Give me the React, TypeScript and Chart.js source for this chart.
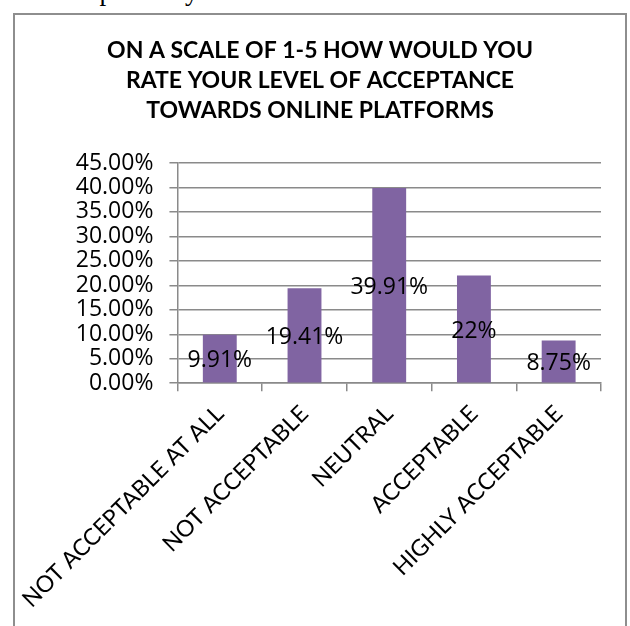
import React, { useEffect, useRef } from "react";
import { Chart, registerables } from "chart.js";

Chart.register(...registerables);

const categories = [
  "NOT ACCEPTABLE AT ALL",
  "NOT ACCEPTABLE",
  "NEUTRAL",
  "ACCEPTABLE",
  "HIGHLY ACCEPTABLE",
];
const values = [9.91, 19.41, 39.91, 22, 8.75];
const valueLabels = ["9.91%", "19.41%", "39.91%", "22%", "8.75%"];
const titleLines = [
  "ON A SCALE OF 1-5 HOW WOULD YOU",
  "RATE YOUR LEVEL OF ACCEPTANCE",
  "TOWARDS ONLINE PLATFORMS",
];
const yMin = 0;
const yMax = 45;
const yStep = 5;

const NUM_FONT = "'Open Sans', sans-serif";
const TEXT_FONT = "Lato, sans-serif";

const dataLabelPlugin = {
  id: "centerLabels",
  afterDatasetsDraw(chart: any) {
    const ctx = chart.ctx;
    const meta = chart.getDatasetMeta(0);
    ctx.save();
    ctx.font = `23px ${NUM_FONT}`;
    ctx.fillStyle = "#000";
    ctx.textAlign = "center";
    ctx.textBaseline = "middle";
    meta.data.forEach((bar: any, i: number) => {
      const p = bar.getProps(["x", "y", "base"], true);
      ctx.fillText(valueLabels[i], p.x, (p.y + p.base) / 2 + 2);
    });
    ctx.restore();
  },
};

export default function App() {
  const ref = useRef<HTMLCanvasElement | null>(null);

  useEffect(() => {
    if (!ref.current) return;
    const chart = new Chart(ref.current, {
      type: "bar",
      data: {
        labels: categories,
        datasets: [
          {
            data: values,
            backgroundColor: "#8064A2",
            barPercentage: 0.4,
            categoryPercentage: 1,
          },
        ],
      },
      options: {
        responsive: false,
        animation: false,
        layout: { padding: { left: 39, right: 29, top: 0, bottom: 4 } },
        plugins: {
          legend: { display: false },
          tooltip: { enabled: false },
          title: {
            display: true,
            text: titleLines,
            color: "#000",
            font: { family: TEXT_FONT, size: 23, weight: "bold", lineHeight: 30 / 23 },
            padding: { top: 36, bottom: 37 },
          },
        },
        scales: {
          x: {
            grid: {
              offset: true,
              drawOnChartArea: false,
              drawTicks: true,
              tickLength: 8,
              color: "#8a8a8a",
              lineWidth: 1.5,
            },
            border: { display: true, color: "#8a8a8a", width: 1.5 },
            ticks: {
              color: "#000",
              font: { family: TEXT_FONT, size: 23 },
              minRotation: 45,
              maxRotation: 45,
              autoSkip: false,
              padding: 9,
            },
          },
          y: {
            min: yMin,
            max: yMax,
            afterFit: (scale: any) => {
              scale.width = 136;
            },
            grid: {
              color: "#8a8a8a",
              lineWidth: 1.5,
              drawTicks: true,
              tickLength: 8,
            },
            border: { display: true, color: "#8a8a8a", width: 1.5 },
            ticks: {
              stepSize: yStep,
              autoSkip: false,
              color: "#000",
              font: { family: NUM_FONT, size: 23 },
              padding: 16,
              callback: (v: any) => Number(v).toFixed(2) + "%",
            },
          },
        },
      },
      plugins: [dataLabelPlugin],
    });
    return () => chart.destroy();
  }, []);

  return (
    <div
      style={{
        position: "fixed",
        left: 0,
        top: 0,
        width: 630,
        height: 626,
        overflow: "hidden",
        background: "#fff",
      }}
    >
      <div
        style={{
          position: "absolute",
          left: 68,
          top: -22,
          fontFamily: "'Liberation Serif', serif",
          fontSize: 27,
          lineHeight: "27px",
          whiteSpace: "nowrap",
        }}
      >
        respectively
      </div>
      <div
        style={{
          position: "absolute",
          left: 13,
          top: 13,
          width: 614,
          height: 700,
          border: "2px solid #8e8e8e",
          boxSizing: "border-box",
        }}
      />
      <canvas
        ref={ref}
        width={630}
        height={626}
        style={{ position: "absolute", left: 0, top: 0, width: 630, height: 626 }}
      />
    </div>
  );
}
